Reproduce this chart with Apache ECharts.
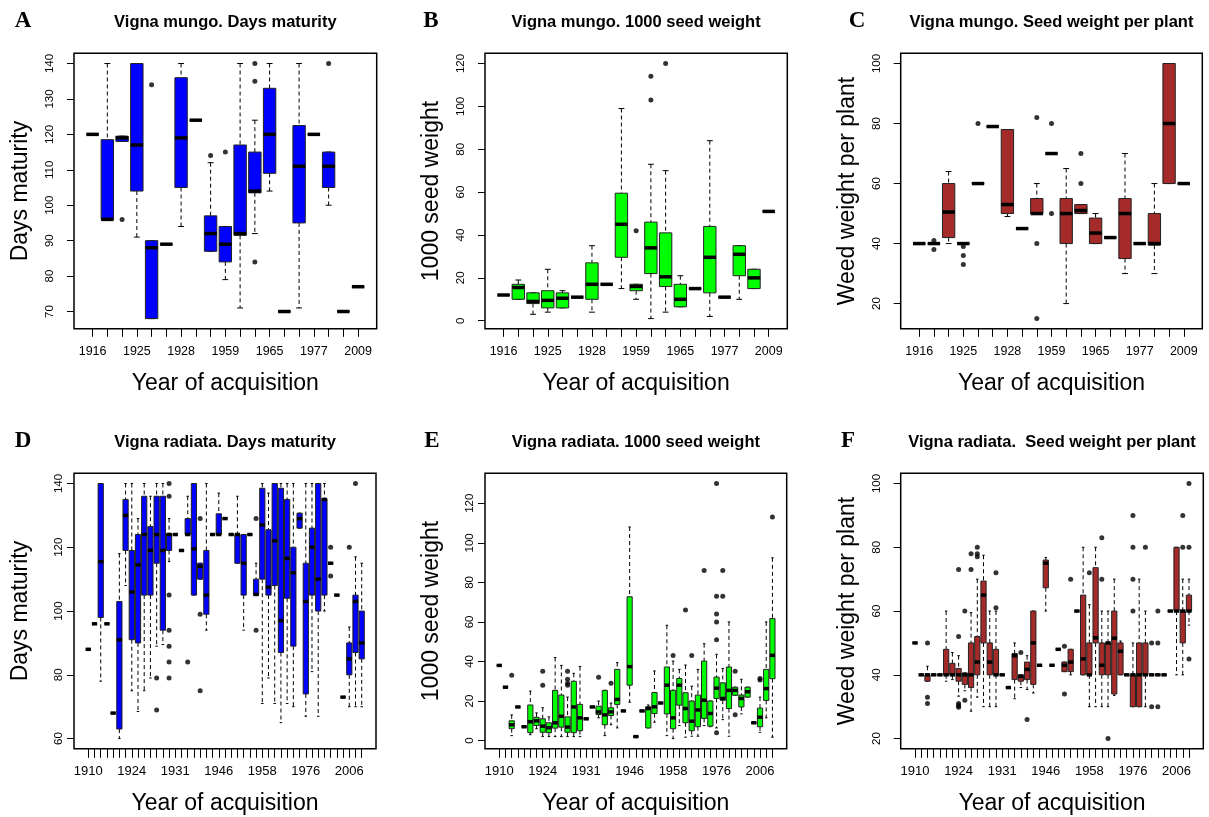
<!DOCTYPE html>
<html>
<head>
<meta charset="utf-8">
<script src="https://cdn.jsdelivr.net/npm/echarts@6/dist/echarts.min.js"></script>
<style>
  html, body { margin: 0; background: #fff; }
  #chart { width: 1209px; height: 817px; }
</style>
</head>
<body>
<div id="chart"></div>
<script>
// Boxplots: Vigna mungo / Vigna radiata by year of acquisition
// box entries: [lowWhisker, q1, median, q3, highWhisker], a number = single value, null = empty
// outliers: [categoryIndex, value]

const mungoYears = [1916, 1919, 1922, 1925, 1926, 1927, 1928, 1935, 1950, 1959,
  1961, 1963, 1965, 1969, 1973, 1977, 1985, 1995, 2009];
const mungoLabelAt = [0, 3, 6, 9, 12, 15, 18];

const radiataYears = [1910, 1912, 1914, 1916, 1918, 1920, 1922, 1924, 1925, 1926,
  1927, 1928, 1929, 1930, 1931, 1933, 1935, 1937, 1939, 1941,
  1943, 1946, 1948, 1950, 1952, 1954, 1956, 1957, 1958, 1960,
  1962, 1964, 1966, 1968, 1970, 1976, 1980, 1984, 1988, 1992,
  1996, 2000, 2006, 2007, 2008];
const radiataLabelAt = [0, 7, 14, 21, 28, 35, 42];

// A
const mungoDaysBox = [120, [96, 96, 96, 118.5, 140], [118, 118, 119, 119.5, 119.5], [91, 104, 117, 140, 140],
  [68, 68, 88, 90, 90], 89, [94, 105, 119, 136, 140], 124, [87, 87, 92, 97, 112], [79, 84, 89, 94, 94],
  [71, 91.5, 92, 117, 140], [92, 103.5, 104, 115, 124], [104, 109, 120, 133, 140], 70,
  [71, 95, 111, 122.5, 140], 120, [100, 105, 111, 115, 115], 70, 77];
const mungoDaysOut = [[2, 96], [4, 134], [8, 114], [9, 115], [11, 140], [11, 135], [11, 84], [16, 140]];
const mungoDaysTicks = [70, 80, 90, 100, 110, 120, 130, 140];

// B
const mungoSeedBox = [12, [10, 10, 15.5, 17, 19], [3, 8, 9, 13, 13], [4, 6, 9.5, 14, 24], [6, 6, 10.5, 13, 14],
  11, [4, 10, 17, 27, 35], 17, [15, 29.6, 45, 59.5, 99], [10, 14, 16, 17, 17], [1, 22, 34, 46, 73],
  [4, 16, 20.5, 41, 70], [6.5, 6.5, 10, 17, 21], 15, [2, 13, 29.6, 44, 84], 11,
  [10, 21, 31, 35, 35], [15, 15, 20, 24, 24], 51];
const mungoSeedOut = [[9, 42], [10, 103], [10, 114], [11, 120]];
const mungoSeedTicks = [0, 20, 40, 60, 80, 100, 120];

// C
const mungoPlantBox = [40, 40, [40, 42, 50.5, 60, 64], 40, 60, 79, [49, 50, 53, 78, 78], 45,
  [50, 50, 50, 55, 60], 70, [20, 40, 50, 55, 65], [50, 50, 51, 53, 53], [40, 40, 43.5, 48.5, 50], 42,
  [30, 35, 50, 55, 70], 40, [30, 39.5, 40, 50, 60], [60, 60, 80, 100, 100], 60];
const mungoPlantOut = [[1, 41], [1, 38], [3, 39], [3, 36], [3, 33], [4, 80], [8, 82], [8, 40], [8, 15],
  [9, 80], [9, 50], [11, 70], [11, 60]];
const mungoPlantTicks = [20, 40, 60, 80, 100];

// D
const radiataDaysBox = [88, 96, [78, 98, 115.5, 140, 140], 96, 68, [60, 63, 91, 103, 118],
  [108, 119, 130, 135, 140], [75, 91, 106, 119, 140], [68.5, 90, 114.5, 124, 129], [75, 105, 124, 136, 140],
  [79, 105, 119, 126.5, 136], [89, 115, 124, 136, 140], [89.5, 94, 119, 136, 140], [115.5, 119, 124, 124.2, 129],
  124, 119, [124, 124, 124, 129, 136], [105, 105, 119.5, 140, 140], [110, 110, 114, 115, 115],
  [94, 99, 105, 119, 140], 124, [124, 124, 124, 130.5, 137], 129, 124, [115, 115, 124, 124, 136],
  [94, 105, 115, 124, 124], 124, [105, 105, 105.2, 110, 115], [71, 110, 127, 138.5, 140],
  [79, 105, 107.5, 125.5, 137], [71, 108, 122, 140, 140], [65, 87, 97, 138.5, 140], [71, 104, 116.5, 135, 140],
  [70, 89, 112, 120, 140], [126, 126, 129, 130.7, 130.7], [67, 74, 103, 115, 140], [81, 105, 120, 126, 140],
  [67, 100, 110, 140, 140], [100, 105, 135, 135.2, 140], 115, 105, 73, [70, 80, 85, 90, 95],
  [70, 87, 103, 105, 117], [70, 85, 90, 100, 115]];
const radiataDaysOut = [[11, 79], [11, 69], [13, 140], [13, 136], [13, 105], [13, 94], [13, 89], [13, 84],
  [13, 79], [16, 84], [18, 129], [18, 99], [18, 75], [27, 129], [27, 94], [39, 120], [39, 111],
  [42, 120], [43, 140]];
const radiataDaysTicks = [60, 80, 100, 120, 140];

// E
const radiataSeedBox = [38, 27, [2.5, 6, 8, 10, 13], 17, 7, [3, 4, 9.5, 18, 25], [6, 7.6, 10, 11.8, 14],
  [2, 4.2, 7.3, 11, 16.6], [2, 4, 6.5, 9, 12], [2, 6.3, 9, 25.4, 42], [2, 6.8, 12.3, 23, 38],
  [2, 4.2, 6.8, 12, 22], [2, 4, 17, 30, 34], [2, 5, 11.5, 18.3, 37.4], 11, 17,
  [11.5, 13.2, 14.5, 17.4, 20], [2.5, 8, 13, 25.4, 25.4], [8, 12.7, 14.5, 16.6, 19], [6.4, 18.3, 20.8, 36, 39.4],
  15, [19.4, 28, 37.4, 72.7, 108], 2, 15, [6.4, 6.4, 16.2, 17.1, 18], [9.3, 13.7, 17.1, 24.3, 35.2], 19,
  [2.5, 13.5, 28, 37.2, 58.3], [1, 6, 11.5, 25.4, 40.2], [7.6, 17.9, 28, 31.4, 36], [1.7, 9, 16.2, 24.2, 38.2],
  [2.2, 5, 9.8, 20, 27.5], [2.2, 7, 15.5, 23, 36], [7.6, 11.2, 20.4, 40.2, 49], [7, 7.3, 13.7, 20, 20],
  [6.4, 21.3, 26.5, 32.1, 43.6], [10.6, 20.4, 21.3, 29.2, 36.5], [2.2, 16.2, 25.4, 37.2, 60],
  [22.9, 22.9, 25.4, 27, 27], [13.5, 17, 21.3, 23, 31], [22, 22, 24.7, 27, 27], 9,
  [4.2, 7, 11.8, 16.4, 22], [11.5, 20.3, 26.3, 36, 60], [1.7, 31.3, 43.1, 61.7, 92.4]];
const radiataSeedOut = [[2, 33], [7, 35], [7, 28], [11, 35], [11, 31], [11, 29], [11, 28], [16, 32], [18, 29],
  [28, 43], [30, 66], [31, 43], [33, 86], [35, 130], [35, 73], [35, 64], [35, 60], [35, 51], [35, 4],
  [36, 86], [36, 73], [38, 35], [38, 13], [42, 31.4], [42, 30.6], [44, 113]];
const radiataSeedTicks = [0, 20, 40, 60, 80, 100, 120];

// F
const radiataPlantBox = [50, 40, [38, 38, 40, 40, 42.7], 40, 40, [38, 40, 40, 48, 60], [38.5, 40, 40, 43.6, 47],
  [33.3, 38, 40, 42, 46], [35, 37, 40, 40.6, 40.6], [28.6, 36, 40, 50, 59.5], [33, 40, 44, 52, 70],
  [30, 50, 65, 69.4, 77.5], [30, 40, 44, 50, 60], [30, 40, 40, 48, 60], 40, 36,
  [32.5, 38.5, 46, 46.7, 50], [36, 38, 39.5, 40, 40], [35.4, 38.5, 41.7, 44, 46], [34.3, 37, 50, 60, 60],
  43, [60, 67.3, 75, 76, 76.8], 43, 48, [41, 41, 43, 44, 44], [40, 41, 44, 48, 48], 60,
  [40, 40, 45, 65, 80], [30, 40, 40, 50, 62], [30, 50, 51.6, 73.6, 80], [30, 40, 43, 50, 60],
  [30, 40, 50, 50, 60], [33.5, 34, 51.5, 60, 70], [40, 40, 47.4, 50, 50.6], 40,
  [30, 30, 40, 40, 50], [30, 30, 40, 50, 70], [30, 40, 40, 50, 60], 40, 40, 40, 60,
  [40, 60, 60, 80, 80], [40, 50, 60, 60, 70], [55.6, 60, 60, 65, 70]];
const radiataPlantOut = [[2, 50], [2, 33], [2, 31], [7, 73], [7, 52], [7, 31], [7, 30.4], [7, 29.8], [8, 60],
  [8, 32], [9, 78], [9, 73], [10, 80], [10, 78], [10, 77], [13, 72], [13, 61], [17, 47], [18, 26],
  [24, 49], [24, 34], [25, 70], [28, 72], [30, 83], [30, 70], [31, 20], [35, 90], [35, 80], [35, 70],
  [35, 60], [37, 80], [38, 50], [38, 30], [39, 60], [39, 50], [39, 30], [43, 90], [43, 80], [44, 100],
  [44, 80], [44, 45]];
const radiataPlantTicks = [20, 40, 60, 80, 100];

const FONT = '"Liberation Sans", Arial, Helvetica, sans-serif';
const BLUE = "#0000ff", GREEN = "#00ff00", BROWN = "#a52a2a";

const panels = [
  { letter: "A", lx: 23, title: "Vigna mungo. Days maturity", ylab: "Days maturity", years: mungoYears, labelAt: mungoLabelAt,
    stats: mungoDaysBox, out: mungoDaysOut, ticks: mungoDaysTicks, color: BLUE, left: 74, top: 53.3, width: 302.7, ylm: 18 },
  { letter: "B", lx: 431, title: "Vigna mungo. 1000 seed weight", ylab: "1000 seed weight", years: mungoYears, labelAt: mungoLabelAt,
    stats: mungoSeedBox, out: mungoSeedOut, ticks: mungoSeedTicks, color: GREEN, left: 485, top: 53.3, width: 302.3, ylm: 18 },
  { letter: "C", lx: 857, title: "Vigna mungo. Seed weight per plant", ylab: "Weed weight per plant", years: mungoYears, labelAt: mungoLabelAt,
    stats: mungoPlantBox, out: mungoPlantOut, ticks: mungoPlantTicks, color: BROWN, left: 900.7, top: 53.3, width: 301.6, ylm: 18 },
  { letter: "D", lx: 23, title: "Vigna radiata. Days maturity", ylab: "Days maturity", years: radiataYears, labelAt: radiataLabelAt,
    stats: radiataDaysBox, out: radiataDaysOut, ticks: radiataDaysTicks, color: BLUE, left: 74, top: 473.3, width: 302, ylm: 9 },
  { letter: "E", lx: 432, title: "Vigna radiata. 1000 seed weight", ylab: "1000 seed weight", years: radiataYears, labelAt: radiataLabelAt,
    stats: radiataSeedBox, out: radiataSeedOut, ticks: radiataSeedTicks, color: GREEN, left: 485, top: 473.3, width: 301.7, ylm: 9 },
  { letter: "F", lx: 848, title: "Vigna radiata.  Seed weight per plant", ylab: "Weed weight per plant", years: radiataYears, labelAt: radiataLabelAt,
    stats: radiataPlantBox, out: radiataPlantOut, ticks: radiataPlantTicks, color: BROWN, left: 900.7, top: 473.3, width: 302.6, ylm: 18 },
];
const PLOT_H = 275.5;

function toRows(stats) {
  const rows = [];
  stats.forEach((s, i) => {
    if (s == null) return;
    const v = typeof s === "number" ? [s, s, s, s, s] : s;
    rows.push([i, ...v]);
  });
  return rows;
}

// R-style axis range: data range extended by 4%
function rRange(stats, out) {
  let lo = Infinity, hi = -Infinity;
  stats.forEach((s) => {
    if (s == null) return;
    const v = typeof s === "number" ? [s] : s;
    lo = Math.min(lo, ...v);
    hi = Math.max(hi, ...v);
  });
  out.forEach((o) => { lo = Math.min(lo, o[1]); hi = Math.max(hi, o[1]); });
  const pad = (hi - lo) * 0.04;
  return [lo - pad, hi + pad];
}

function boxShape(api, fill) {
  const x = api.value(0);
  const lo = api.coord([x, api.value(1)]);
  const q1 = api.coord([x, api.value(2)]);
  const md = api.coord([x, api.value(3)]);
  const q3 = api.coord([x, api.value(4)]);
  const hi = api.coord([x, api.value(5)]);
  const half = api.size([0.84, 0])[0] / 2; // boxwex 0.8 + border
  const st = api.size([0.4, 0])[0] / 2;    // staple
  const cx = q1[0];
  const dash = { stroke: "#000", lineWidth: 1, lineDash: [4, 3] };
  const solid = { stroke: "#000", lineWidth: 1 };
  return {
    type: "group",
    children: [
      { type: "line", shape: { x1: cx, y1: hi[1], x2: cx, y2: q3[1] }, style: dash },
      { type: "line", shape: { x1: cx, y1: q1[1], x2: cx, y2: lo[1] }, style: dash },
      { type: "line", shape: { x1: cx - st, y1: hi[1], x2: cx + st, y2: hi[1] }, style: solid },
      { type: "line", shape: { x1: cx - st, y1: lo[1], x2: cx + st, y2: lo[1] }, style: solid },
      { type: "rect", shape: { x: cx - half, y: q3[1], width: half * 2, height: q1[1] - q3[1] },
        style: { fill: fill, stroke: "#222", lineWidth: 1 } },
      { type: "line", shape: { x1: cx - half, y1: md[1], x2: cx + half, y2: md[1] },
        style: { stroke: "#000", lineWidth: 3.5 } },
    ],
  };
}

const grid = [], xAxis = [], yAxis = [], series = [], graphic = [];

panels.forEach((p, k) => {
  const n = p.years.length;
  const bottomRow = k >= 3;
  const [ymin, ymax] = rRange(p.stats, p.out);

  grid.push({ left: p.left, top: p.top, width: p.width, height: PLOT_H,
    show: true, borderColor: "#000", borderWidth: 1.5, backgroundColor: "transparent" });

  xAxis.push({
    type: "value", gridIndex: k, position: "bottom",
    min: -0.5 - 0.04 * n, max: n - 0.5 + 0.04 * n,
    name: "Year of acquisition", nameLocation: "middle", nameGap: 43,
    nameTextStyle: { fontFamily: FONT, fontSize: 23, color: "#000" },
    axisLine: { show: false, onZero: false },
    splitLine: { show: false },
    axisTick: { show: true, length: bottomRow ? 9 : 8, lineStyle: { color: "#000", width: 1 },
      customValues: p.years.map((_, i) => i) },
    axisLabel: { customValues: p.labelAt, formatter: (v) => String(p.years[Math.round(v)]),
      fontFamily: FONT, fontSize: bottomRow ? 13 : 12.5, color: "#000", margin: 16 },
  });

  yAxis.push({
    type: "value", gridIndex: k, position: "left", min: ymin, max: ymax,
    name: p.ylab, nameLocation: "middle", nameGap: 42,
    nameTextStyle: { fontFamily: FONT, fontSize: 23, color: "#000" },
    axisLine: { show: false, onZero: false },
    splitLine: { show: false },
    axisTick: { show: true, length: 7, lineStyle: { color: "#000", width: 1 }, customValues: p.ticks },
    axisLabel: { customValues: p.ticks, rotate: 90, fontFamily: FONT, fontSize: 11.5, color: "#000", margin: p.ylm },
  });

  series.push({
    type: "custom", xAxisIndex: k, yAxisIndex: k, silent: true, clip: false,
    data: toRows(p.stats),
    encode: { x: 0, y: [1, 2, 3, 4, 5] },
    renderItem: (params, api) => boxShape(api, p.color),
  });
  series.push({
    type: "scatter", xAxisIndex: k, yAxisIndex: k, silent: true,
    data: p.out, symbol: "circle", symbolSize: 5,
    itemStyle: { color: "#000" },
  });

  const ty = bottomRow ? 442 : 22;
  graphic.push({
    type: "text", x: p.left + p.width / 2, y: ty,
    style: { text: p.title, font: "bold 16.5px " + FONT, fill: "#000",
      align: "center", verticalAlign: "middle", textAlign: "center", textVerticalAlign: "middle" },
  });
  graphic.push({
    type: "text", x: p.lx, y: ty - 1,
    style: { text: p.letter, font: 'bold 23px "Liberation Serif", "Times New Roman", serif', fill: "#000",
      align: "center", verticalAlign: "middle", textAlign: "center", textVerticalAlign: "middle" },
  });
});

const chart = echarts.init(document.getElementById("chart"));
chart.setOption({
  animation: false,
  backgroundColor: "#fff",
  grid, xAxis, yAxis, series, graphic,
});
</script>
</body>
</html>
